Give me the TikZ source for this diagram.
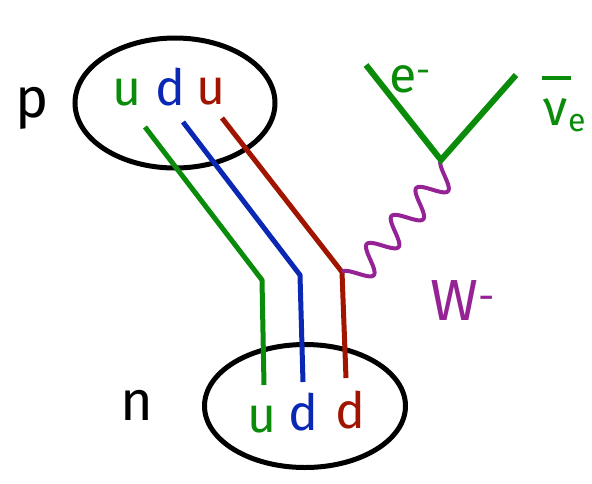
\documentclass[tikz,border=0pt]{standalone}
\usepackage{fontspec}
\setmainfont{Fira Sans}
\usepackage{tikz}
\usetikzlibrary{shapes.geometric}
\definecolor{qGreen}{RGB}{10,140,10}
\definecolor{qBlue}{RGB}{10,40,180}
\definecolor{qRed}{RGB}{160,20,0}
\definecolor{wPurple}{RGB}{150,35,150}

\begin{document}
\begin{tikzpicture}[
    x=1pt, y=-1pt,
    hadron/.style={draw=black, ellipse, line width=5pt, inner sep=0pt},
    quark/.style={anchor=base, inner sep=0pt, font=\fontsize{50}{50}\selectfont},
    big/.style={anchor=base, inner sep=0pt, font=\fontsize{56}{56}\selectfont},
    qline/.style={line width=5pt, line join=miter},
    lepton/.style={line width=6pt, qGreen},
    wboson/.style={line width=4pt, wPurple, line join=round}
  ]
    \useasboundingbox (0,0) rectangle (592,483);
    % proton and neutron
    \node[hadron, minimum width=200pt, minimum height=130pt] (prot) at (175,103) {};
    \node[hadron, minimum width=201pt, minimum height=123pt] (neut) at (305,406) {};
    \node[big] (pl) at (32,117) {p};
    \node[big] (nl) at (137,420) {n};
    % quarks
    \node[quark, qGreen] (pu1) at (127,105) {u};
    \node[quark, qBlue] (pd) at (170,105) {d};
    \node[quark, qRed] (pu2) at (211,104) {u};
    \node[quark, qGreen] (nu) at (262,432) {u};
    \node[quark, qBlue] (nd1) at (303,430) {d};
    \node[quark, qRed] (nd2) at (350,428) {d};
    \coordinate (gA) at (145,127); \coordinate (gB) at (262,280); \coordinate (gC) at (264,385);
    \coordinate (bA) at (183,122); \coordinate (bB) at (300,275); \coordinate (bC) at (303,382);
    \coordinate (rA) at (222,118); \coordinate (rB) at (342,272); \coordinate (rC) at (346,378);
    \draw[qline, qGreen] (gA) -- (gB) -- (gC);
    \draw[qline, qBlue] (bA) -- (bB) -- (bC);
    \draw[qline, qRed] (rA) -- (rB) -- (rC);
    % W and leptons
    \coordinate (vtx) at (441,160);
    \coordinate (eEnd) at (366,65);
    \coordinate (nuEnd) at (516,75);
    % wiggle from rB (342,272) to vtx, four periods
    \draw[wboson] plot[domain=0:1, samples=120, smooth]
      ({342+99*\x+9.7*(1-cos(4*360*\x))}, {272-112*\x+8.6*(1-cos(4*360*\x))});
    \draw[lepton] (eEnd) -- (vtx) -- (nuEnd);
    \node[quark, qGreen] (el) at (410,92) {e\textsuperscript{-}};
    \node[quark, qGreen] (nusym) at (556,125) {ν};
    \node[anchor=base west, inner sep=0pt, qGreen, font=\fontsize{32}{32}\selectfont] (nusub) at (568,131) {e};
    \draw[qGreen, line width=4pt] ([xshift=-2pt, yshift=20pt]nusym.north west) -- ([xshift=3pt, yshift=20pt]nusym.north east);
    \node[big, wPurple, font=\fontsize{58}{58}\selectfont] (wl) at (463,320) {W\textsuperscript{-}};
\end{tikzpicture}
\end{document}
